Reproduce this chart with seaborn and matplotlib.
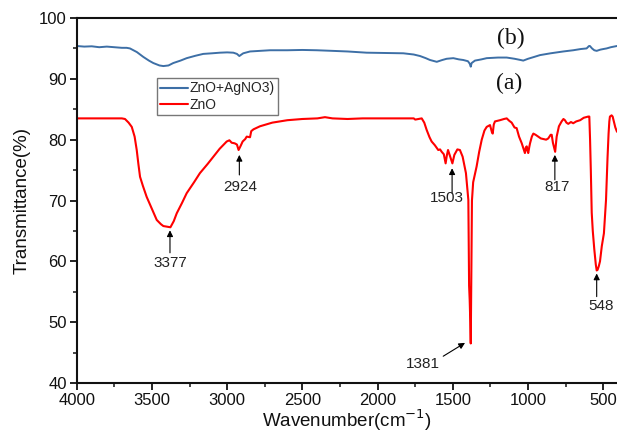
import numpy as np
import pandas as pd
import matplotlib
matplotlib.use("Agg")
import matplotlib.pyplot as plt
from matplotlib.ticker import MultipleLocator
from matplotlib.lines import Line2D
import seaborn as sns

# ---------------- data ----------------
red_wn = [4000, 3900, 3800, 3700, 3679, 3655, 3634, 3615, 3601, 3590, 3579, 3560, 3535,
          3500, 3468, 3440, 3424, 3400, 3377, 3355, 3335, 3300, 3269, 3220, 3181, 3130,
          3092, 3050, 3003, 2985, 2970, 2950, 2935, 2924, 2910, 2897, 2880, 2870, 2848,
          2840, 2825, 2782, 2700, 2600, 2500, 2400, 2350, 2300, 2200, 2100, 2000, 1900,
          1800, 1760, 1750, 1707, 1690, 1674, 1655, 1641, 1620, 1597, 1585, 1574, 1560,
          1548, 1540, 1532, 1520, 1503, 1490, 1470, 1453, 1435, 1413, 1397, 1392, 1388,
          1384, 1381, 1378, 1373, 1365, 1342, 1325, 1308, 1290, 1275, 1253, 1240, 1235,
          1228, 1220, 1187, 1160, 1142, 1125, 1109, 1090, 1076, 1060, 1042, 1030, 1021,
          1015, 1009, 1004, 999, 992, 987, 975, 965, 950, 932, 915, 899, 880, 866, 850,
          843, 835, 820, 810, 795, 777, 765, 755, 745, 733, 715, 700, 680, 654, 630,
          600, 593, 588, 583, 577, 570, 560, 550, 544, 538, 530, 522, 510, 496, 482,
          472, 465, 460, 456, 445, 438, 430, 420, 409]
red_t = [83.5, 83.5, 83.5, 83.5, 83.4, 82.8, 82.1, 80.5, 78.3, 76.0, 73.9, 72.4, 70.6,
         68.6, 66.8, 66.1, 65.8, 65.7, 65.6, 66.6, 67.9, 69.6, 71.2, 73.0, 74.5, 76.0,
         77.2, 78.5, 79.7, 79.9, 79.5, 79.4, 79.2, 78.3, 79.0, 79.7, 80.1, 80.5, 80.4,
         81.4, 81.7, 82.2, 82.8, 83.2, 83.4, 83.5, 83.7, 83.5, 83.4, 83.5, 83.5, 83.5,
         83.5, 83.5, 83.3, 83.5, 82.8, 81.6, 80.4, 79.7, 79.1, 78.3, 78.4, 78.0, 77.6,
         76.1, 77.4, 78.3, 77.4, 76.1, 77.5, 78.4, 78.3, 77.2, 74.5, 70.1, 56.0, 53.6,
         50.0, 46.5, 56.0, 70.0, 73.0, 75.6, 78.0, 80.0, 81.5, 82.1, 82.4, 81.2, 81.0,
         82.5, 83.0, 83.2, 83.4, 83.5, 83.1, 82.8, 82.0, 81.9, 80.5, 79.4, 78.5, 77.8,
         78.7, 78.9, 78.2, 77.8, 78.8, 79.4, 80.5, 81.0, 80.8, 80.5, 80.2, 80.1, 80.0,
         80.2, 80.8, 80.8, 79.5, 78.0, 80.5, 82.2, 83.0, 83.4, 83.2, 82.8, 82.6, 82.9,
         82.7, 83.0, 83.2, 83.6, 83.8, 83.8, 80.0, 75.0, 68.0, 65.0, 62.0, 59.5, 58.5,
         58.6, 59.2, 60.0, 62.5, 64.6, 70.1, 77.0, 81.0, 83.0, 83.8, 84.0, 83.8, 83.0,
         82.0, 81.3]

blue_wn = [4000, 3950, 3900, 3850, 3800, 3750, 3700, 3668, 3646, 3600, 3557, 3520, 3491,
           3450, 3424, 3390, 3358, 3310, 3269, 3210, 3159, 3100, 3048, 3000, 2959, 2935,
           2919, 2905, 2893, 2848, 2782, 2715, 2600, 2500, 2405, 2300, 2200, 2073, 1950,
           1829, 1760, 1718, 1680, 1652, 1607, 1570, 1541, 1497, 1460, 1431, 1400, 1388,
           1381, 1375, 1353, 1310, 1275, 1200, 1142, 1090, 1050, 1032, 1000, 960, 921,
           850, 766, 700, 650, 611, 595, 589, 575, 560, 544, 520, 500, 478, 450, 409]
blue_t = [95.4, 95.3, 95.35, 95.2, 95.3, 95.2, 95.1, 95.1, 95.0, 94.4, 93.6, 93.0, 92.6,
          92.2, 92.1, 92.2, 92.6, 93.0, 93.4, 93.8, 94.1, 94.2, 94.3, 94.35, 94.3, 94.1,
          93.75, 94.0, 94.2, 94.5, 94.6, 94.7, 94.7, 94.75, 94.7, 94.6, 94.5, 94.3, 94.25,
          94.2, 94.0, 93.75, 93.4, 93.1, 92.8, 93.1, 93.3, 93.4, 93.2, 93.1, 92.9, 92.5,
          92.0, 92.6, 93.0, 93.2, 93.4, 93.5, 93.5, 93.3, 93.1, 93.0, 93.3, 93.6, 93.9,
          94.2, 94.5, 94.7, 94.9, 95.0, 95.4, 95.4, 95.0, 94.7, 94.6, 94.8, 94.9, 95.0,
          95.2, 95.4]

series_labels = ["ZnO+AgNO3)", "ZnO"]

# annotation: peak labels, arrow head / tail, label position
ann_labels = ["3377", "2924", "1503", "817", "548"]
ann_x = [3380, 2919, 1505, 822, 544]
ann_head = [65.1, 77.5, 75.3, 77.5, 58.0]
ann_tail = [61.4, 74.2, 71.2, 73.4, 54.2]
ann_text_x = [3380, 2912, 1538, 808, 515]
ann_text_y = [59.7, 72.3, 70.4, 72.3, 52.7]
# diagonal arrow for 1381
diag_label = "1381"
diag_head = (1419, 46.6)
diag_tail = (1564, 44.4)
diag_text = (1697, 43.2)

df_red = pd.DataFrame({"wn": red_wn, "T": red_t})
df_blue = pd.DataFrame({"wn": blue_wn, "T": blue_t})

# ---------------- style ----------------
sns.set_style("ticks")
plt.rcParams["font.family"] = ["Liberation Sans", "DejaVu Sans"]

fig = plt.figure(figsize=(6.17, 4.33), dpi=100)
ax = fig.add_axes([0.1243, 0.1155, 1.0 - 0.1243, 0.9584 - 0.1155])

blue_c = "#3d6fa6"
red_c = "#ff0000"
sns.lineplot(data=df_blue, x="wn", y="T", ax=ax, color=blue_c, lw=1.4,
             estimator=None, sort=False)
sns.lineplot(data=df_red, x="wn", y="T", ax=ax, color=red_c, lw=1.5,
             estimator=None, sort=False)

ax.set_xlim(4000, 409)
ax.set_ylim(40, 100)
ax.xaxis.set_major_locator(MultipleLocator(500))
ax.xaxis.set_minor_locator(MultipleLocator(250))
ax.yaxis.set_major_locator(MultipleLocator(10))
ax.yaxis.set_minor_locator(MultipleLocator(5))
ax.tick_params(axis="both", which="major", direction="out", length=5, width=1.3,
               labelsize=12, colors="#111111", pad=2)
ax.tick_params(axis="both", which="minor", direction="out", length=3, width=1.2)
ax.tick_params(top=False, right=False)

for s in ["left", "bottom", "top"]:
    ax.spines[s].set_linewidth(1.5)
    ax.spines[s].set_color("#111111")
ax.spines["right"].set_visible(False)

ax.set_xlabel("Wavenumber(cm$^{-1}$)", fontsize=13.5, color="#111111", labelpad=0)
ax.set_ylabel("Transmittance(%)", fontsize=13.5, color="#111111", labelpad=6)

# legend
handles = [Line2D([0], [0], color=blue_c, lw=1.5), Line2D([0], [0], color=red_c, lw=1.5)]
leg = ax.legend(handles, series_labels, loc="upper left", bbox_to_anchor=(0.1486, 0.8356),
                borderaxespad=0, fontsize=10, frameon=True, fancybox=False,
                handlelength=2.0, handletextpad=0.1, labelspacing=0.15, borderpad=0.25)
leg.get_frame().set_edgecolor("#555555")
leg.get_frame().set_linewidth(1.0)

# panel letters
ax.text(1114, 96.7, "(b)", fontsize=17, family=["Liberation Serif", "DejaVu Serif"],
        ha="center", va="center", color="#111111")
ax.text(1127, 89.2, "(a)", fontsize=17, family=["Liberation Serif", "DejaVu Serif"],
        ha="center", va="center", color="#111111")

# peak annotations
arrow_kw = dict(arrowstyle="-|>", color="black", lw=0.8, mutation_scale=9,
                shrinkA=0, shrinkB=0)
for lab, x, yh, yt, tx, ty in zip(ann_labels, ann_x, ann_head, ann_tail,
                                  ann_text_x, ann_text_y):
    ax.annotate("", xy=(x, yh), xytext=(x, yt), arrowprops=arrow_kw)
    ax.text(tx, ty, lab, fontsize=11, ha="center", va="center", color="#222222")

ax.annotate("", xy=diag_head, xytext=diag_tail, arrowprops=arrow_kw)
ax.text(diag_text[0], diag_text[1], diag_label, fontsize=11, ha="center", va="center",
        color="#222222")

fig.savefig("out.png", dpi=100)
